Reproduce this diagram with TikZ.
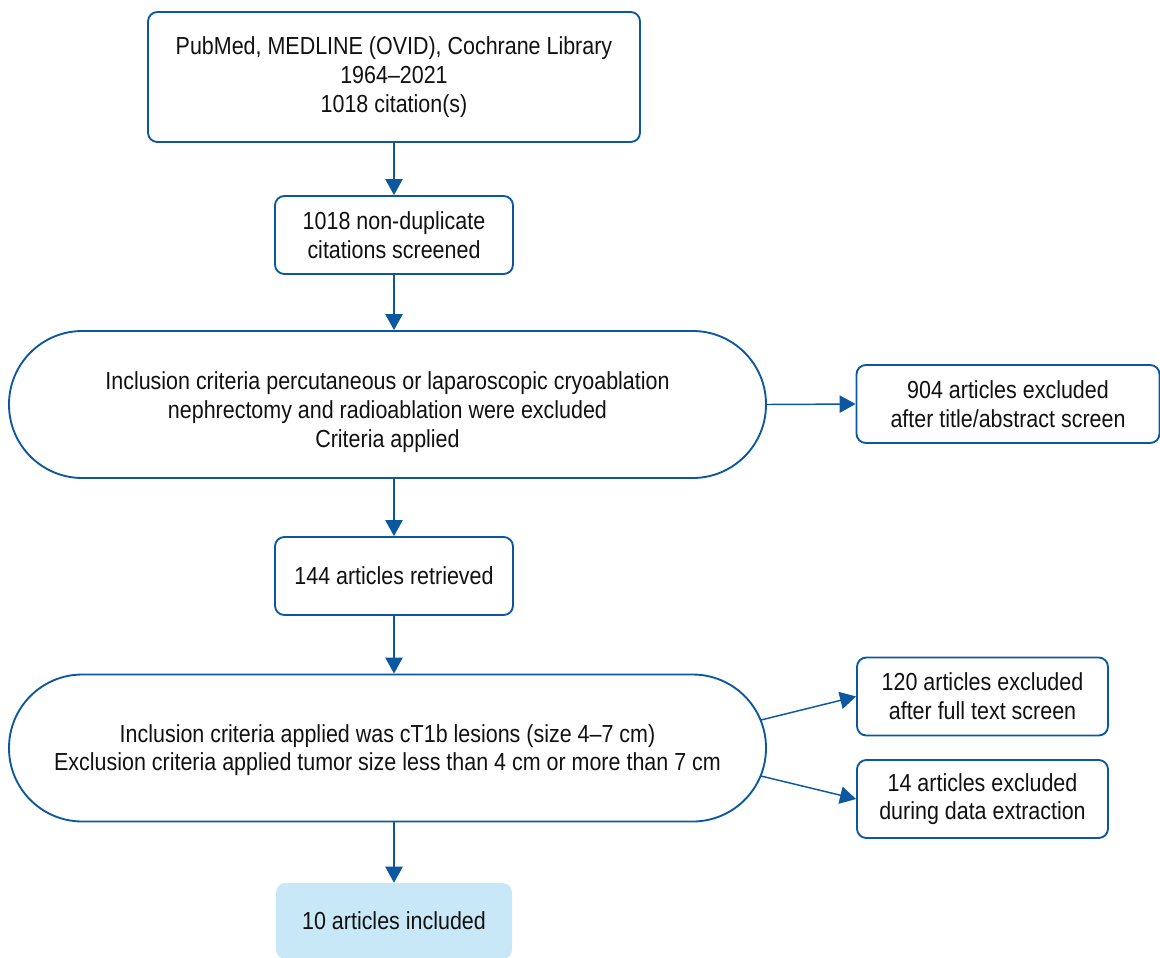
\documentclass[tikz,border=0pt]{standalone}
\usepackage{fontspec}
\setmainfont[FakeStretch=0.87]{Liberation Sans}
\usetikzlibrary{arrows.meta,calc}
\definecolor{lblue}{HTML}{0B57A0}
\definecolor{fillb}{HTML}{C8E8F8}
\definecolor{txt}{HTML}{111111}
\tikzset{
  box/.style={draw=lblue, line width=1.4pt, rounded corners=7pt, align=center, inner sep=0pt, text=txt, font=\fontsize{18.5}{21.5}\selectfont},
  stad/.style={box, rounded corners=55pt, minimum width=567.75pt, minimum height=110.25pt},
  plain/.style={align=center, inner sep=0pt, text=txt, font=\fontsize{18.5}{21.5}\selectfont},
  final/.style={fill=fillb, rounded corners=7pt, align=center, inner sep=0pt, text=txt, font=\fontsize{18.5}{21.5}\selectfont},
  arr/.style={draw=lblue, line width=1.1pt, -{Triangle[width=13pt,length=12pt]}}
}
\begin{document}
\begin{tikzpicture}[x=0.75pt,y=-0.75pt]
\useasboundingbox (0,0) rectangle (1160,957);
\node[box, minimum width=369pt, minimum height=97.5pt] (top) at (394,77)
  {PubMed, MEDLINE (OVID), Cochrane Library\\1964--2021\\1018 citation(s)};
\node[box, minimum width=178.5pt, minimum height=58.5pt] (scr) at (394,235)
  {1018 non-duplicate\\citations screened};
\node[stad] (s1) at (387.5,404.5) {};
\node[plain] (s1t) at (387.5,412)
  {Inclusion criteria percutaneous or laparoscopic cryoablation\\nephrectomy and radioablation were excluded\\Criteria applied};
\node[box, minimum width=227.25pt, minimum height=58.5pt] (ex1) at (1008,404)
  {904 articles excluded\\after title/abstract screen};
\node[box, minimum width=178.5pt, minimum height=58.5pt] (ret) at (394,576)
  {144 articles retrieved};
\node[stad] (s2) at (387.5,748) {};
\node[plain] (s2t) at (387.5,750)
  {Inclusion criteria applied was cT1b lesions (size 4--7 cm)\\Exclusion criteria applied tumor size less than 4 cm or more than 7 cm};
\node[box, minimum width=188.25pt, minimum height=58.5pt] (ex2) at (982.5,696.5)
  {120 articles excluded\\after full text screen};
\node[box, minimum width=188.25pt, minimum height=58.5pt] (ex3) at (982.5,799)
  {14 articles excluded\\during data extraction};
\node[final, minimum width=177pt, minimum height=57pt] (fin) at (394,921)
  {10 articles included};
\coordinate (s2a) at ($(s2.east)+(-6,-28)$);
\coordinate (s2b) at ($(s2.east)+(-6,28)$);
\draw[arr] (top.south) -- (scr.north);
\draw[arr] (scr.south) -- (scr.south |- s1.north);
\draw[arr] (s1.east) -- (ex1.west);
\draw[arr] (ret.north |- s1.south) -- (ret.north);
\draw[arr] (ret.south) -- (ret.south |- s2.north);
\draw[arr] (s2a) -- (ex2.west);
\draw[arr] (s2b) -- (ex3.west);
\draw[arr] (fin.north |- s2.south) -- (fin.north);
\end{tikzpicture}
\end{document}
